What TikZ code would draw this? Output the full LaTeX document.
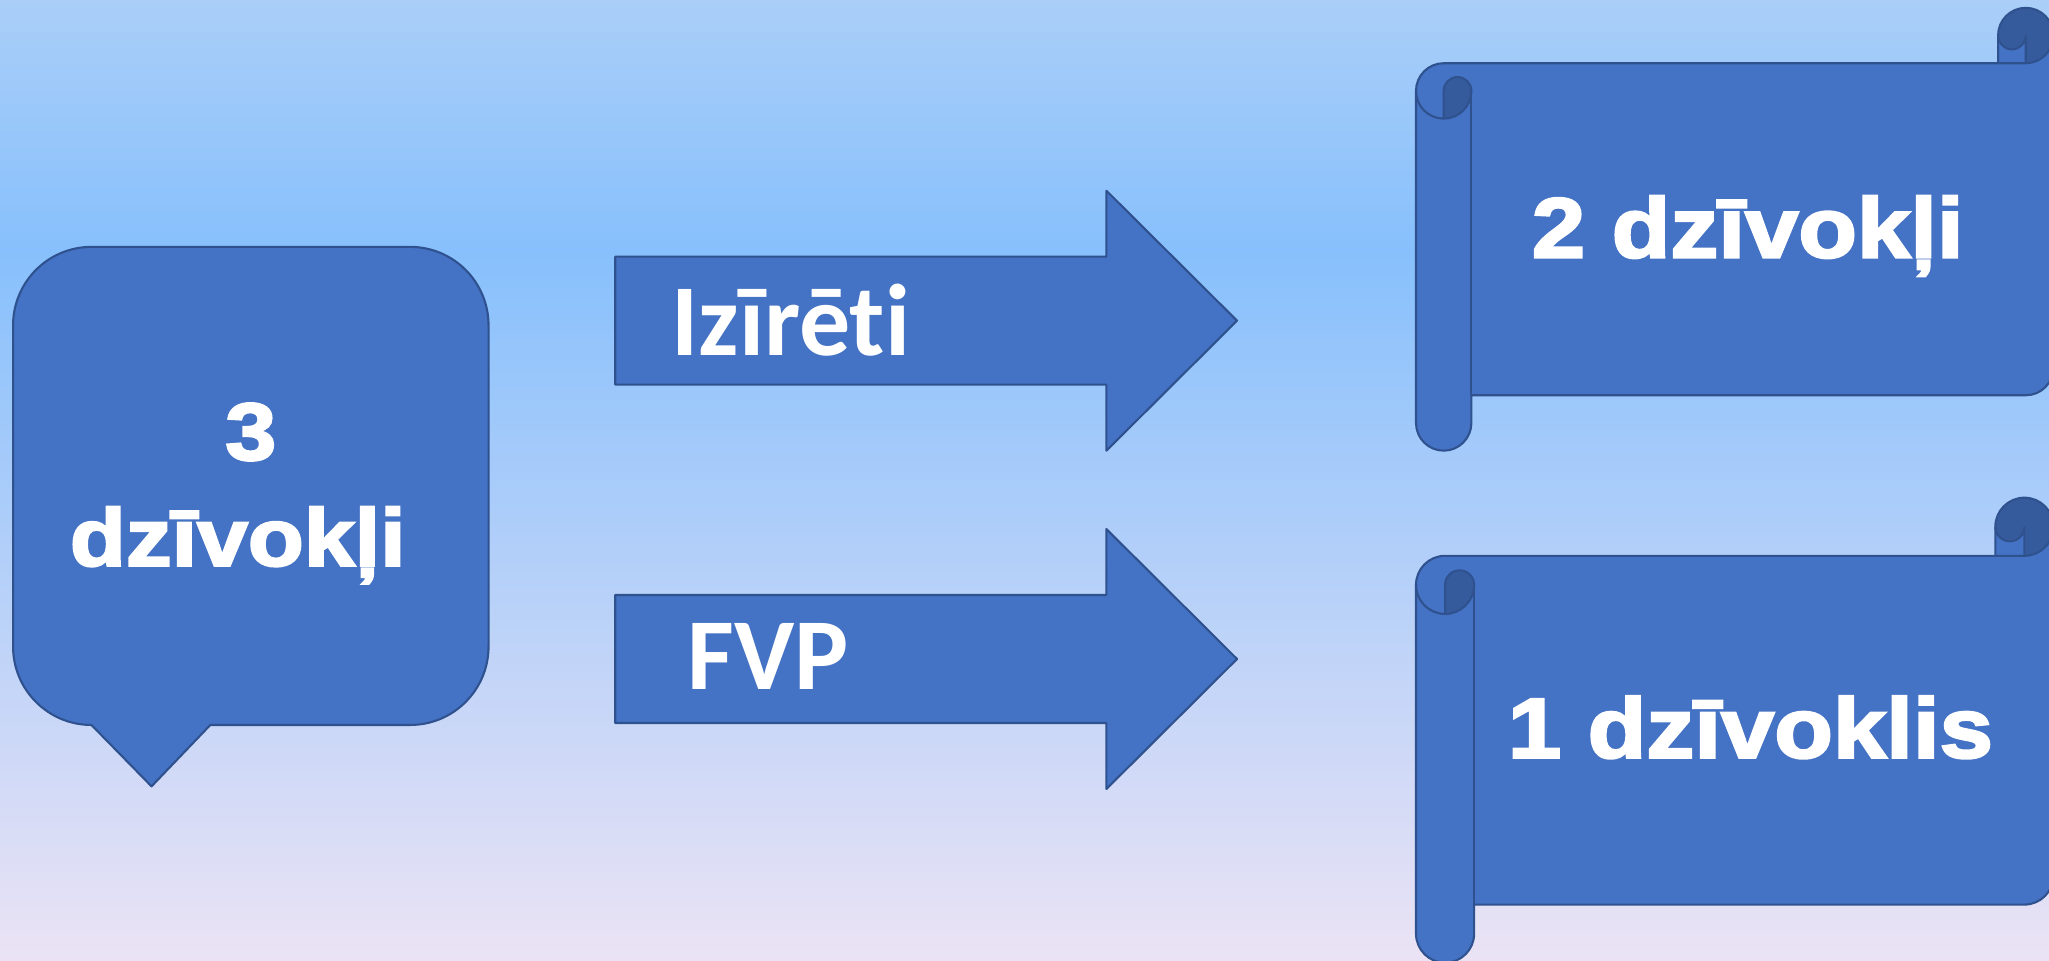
\documentclass[tikz,border=0pt]{standalone}
\usepackage{fontspec}
\newfontfamily\blackfont{Liberation Sans}[FakeStretch=1.13,BoldFeatures={FakeBold=3}]
\newfontfamily\calfont{Carlito}[Ligatures=NoCommon]
\definecolor{shapefill}{HTML}{4472C4}
\definecolor{shapedark}{HTML}{365B9D}
\definecolor{shapeedge}{HTML}{2F528F}
\definecolor{bgtop}{HTML}{AACEF8}
\definecolor{bgmid}{HTML}{87C0FC}
\definecolor{bgbot}{HTML}{EBE3F5}
\tikzset{
  shapeline/.style={draw=shapeedge, line width=1.6pt, line join=round},
  bodyfill/.style={fill=shapefill},
  darkfill/.style={fill=shapedark},
  bigtext/.style={text=white, inner sep=0pt, font=\blackfont\bfseries\fontsize{62}{70}\selectfont},
  scrolltext/.style={text=white, inner sep=0pt, font=\blackfont\bfseries\fontsize{65}{72}\selectfont},
  arrowtext/.style={text=white, inner sep=0pt, font=\calfont\bfseries\fontsize{78}{84}\selectfont},
}
\newcommand{\myscroll}[5]{% L T R B ch
\begingroup
\pgfmathsetmacro\sL{#1}\pgfmathsetmacro\sT{#2}\pgfmathsetmacro\sR{#3}\pgfmathsetmacro\sB{#4}%
\pgfmathsetmacro\ch{#5}\pgfmathsetmacro\chh{#5/2}\pgfmathsetmacro\chq{#5/4}%
\pgfmathsetmacro\yc{\sT+1.5*\ch}\pgfmathsetmacro\yd{\sT+2*\ch}%
\pgfmathsetmacro\yf{\sB-\ch}\pgfmathsetmacro\yg{\sB-\chh}\pgfmathsetmacro\ye{\yf-\chh}%
\pgfmathsetmacro\xc{\sR-\ch}\pgfmathsetmacro\xd{\sR-\chh}%
\pgfmathsetmacro\xa{\sL+\chh}\pgfmathsetmacro\xb{\sL+\ch}%
\pgfmathsetmacro\ya{\sT+\chh}\pgfmathsetmacro\yb{\sT+\ch}%
\path[bodyfill] (\sL,\yc) arc[start angle=180,delta angle=90,radius=\chh] -- (\xc,\yb) -- (\xc,\ya)
  arc[start angle=180,delta angle=180,radius=\chh] -- (\sR,\ye)
  arc[start angle=0,delta angle=90,radius=\chh] -- (\xb,\yf) -- (\xb,\yg)
  arc[start angle=0,delta angle=180,radius=\chh] -- cycle;
\path[darkfill] (\xd,\yb) arc[start angle=90,delta angle=-270,radius=\chh]
  arc[start angle=180,delta angle=-180,radius=\chq] -- cycle;
\path[darkfill] (\xa,\yd) arc[start angle=90,delta angle=-90,radius=\chh]
  arc[start angle=0,delta angle=-180,radius=\chq] -- cycle;
\path[shapeline] (\sL,\yc) arc[start angle=180,delta angle=90,radius=\chh] -- (\xc,\yb) -- (\xc,\ya)
  arc[start angle=180,delta angle=180,radius=\chh] -- (\sR,\ye)
  arc[start angle=0,delta angle=90,radius=\chh] -- (\xb,\yf) -- (\xb,\yg)
  arc[start angle=0,delta angle=180,radius=\chh] -- cycle;
\path[shapeline] (\xc,\yb) -- (\xd,\yb) arc[start angle=90,delta angle=-90,radius=\chh];
\path[shapeline] (\xd,\yb) -- (\xd,\ya) arc[start angle=0,delta angle=180,radius=\chq];
\path[shapeline] (\xa,\yd) -- (\xa,\yc) arc[start angle=180,delta angle=180,radius=\chq]
  arc[start angle=0,delta angle=180,radius=\chh];
\path[shapeline] (\xb,\yc) -- (\xb,\yf);
\endgroup
}
\begin{document}
\begin{tikzpicture}[x=1pt,y=-1pt]
\useasboundingbox (0,0) rectangle (1568.6,735);
\clip (0,0) rectangle (1568.6,735);
% background
\shade[top color=bgtop, bottom color=bgmid] (0,0) rectangle (1568.6,191);
\shade[top color=bgmid, bottom color=bgbot] (0,190) rectangle (1568.6,735);
% callout
\path[bodyfill, shapeline] (70,189) -- (314,189) arc[start angle=-90,delta angle=90,radius=60]
  -- (374,495) arc[start angle=0,delta angle=90,radius=60]
  -- (161,555) -- (116,602) -- (70,555) arc[start angle=90,delta angle=90,radius=60]
  -- (10,249) arc[start angle=180,delta angle=90,radius=60] -- cycle;
\node[bigtext, anchor=base] (three) at (192,352) {3};
\node[bigtext, anchor=base] (dz3) at (182,433) {dzīvokļi};
% arrows
\path[bodyfill, shapeline] (471,196.5) -- (847,196.5) -- (847,146) -- (947,245.5) -- (847,345) -- (847,294.5) -- (471,294.5) -- cycle;
\path[bodyfill, shapeline] (471,455.5) -- (847,455.5) -- (847,405) -- (947,504.5) -- (847,604) -- (847,553.5) -- (471,553.5) -- cycle;
\node[arrowtext, anchor=base west] (izireti) at (514,272) {Izīrēti};
\node[arrowtext, anchor=base west] (fvp) at (526,528) {FVP};
% scrolls
\myscroll{1084}{6}{1572}{345}{42.4}
\myscroll{1084}{381}{1572}{737}{44.5}
\node[scrolltext, anchor=base] (dz2) at (1338,197) {2 dzīvokļi};
\node[scrolltext, anchor=base] (dz1) at (1340,580) {1 dzīvoklis};
\end{tikzpicture}
\end{document}
